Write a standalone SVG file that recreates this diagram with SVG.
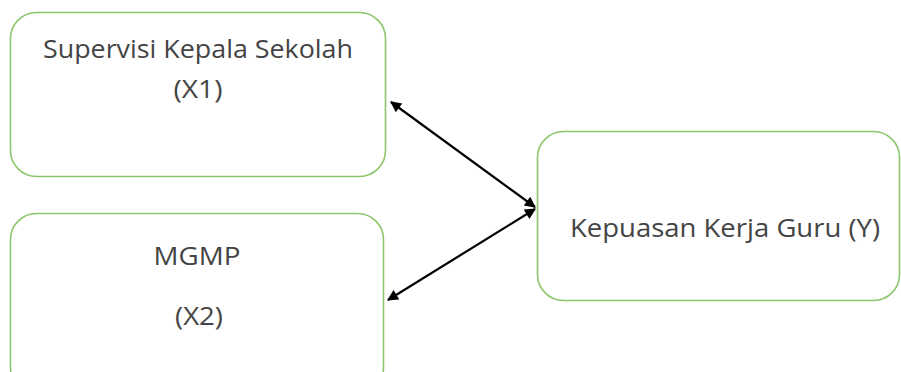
<svg xmlns="http://www.w3.org/2000/svg" width="901" height="372" viewBox="0 0 901 372">
<style>
.box{fill:#fff;stroke:#8cc66a;stroke-width:1.6}
.t{font-family:"Open Sans","Liberation Sans",sans-serif;font-size:26px;fill:#444;text-anchor:middle}
.c{stroke:#000;stroke-width:2.2;fill:none}
</style>
<defs>
<marker id="ah" viewBox="0 0 10 10" refX="9" refY="5" markerWidth="6" markerHeight="5" orient="auto-start-reverse" markerUnits="strokeWidth">
<path d="M0,0 L10,5 L0,10 z" fill="#000"/>
</marker>
</defs>
<rect width="901" height="372" fill="#fff"/>
<g id="node-x1">
<rect class="box" x="10.5" y="12.5" width="375" height="164" rx="26"/>
<text class="t" x="198" y="58" textLength="310" lengthAdjust="spacingAndGlyphs">Supervisi Kepala Sekolah</text>
<text class="t" x="198" y="98" textLength="49" lengthAdjust="spacingAndGlyphs">(X1)</text>
</g>
<g id="node-x2">
<rect class="box" x="10.5" y="213.5" width="373" height="180" rx="26"/>
<text class="t" x="197" y="265" textLength="87" lengthAdjust="spacingAndGlyphs">MGMP</text>
<text class="t" x="199" y="325" textLength="48" lengthAdjust="spacingAndGlyphs">(X2)</text>
</g>
<g id="node-y">
<rect class="box" x="537.5" y="131.5" width="362" height="169" rx="26"/>
<text class="t" x="725" y="237" font-size="25" textLength="310" lengthAdjust="spacingAndGlyphs">Kepuasan Kerja Guru  (Y)</text>
</g>
<g id="connectors">
<line class="c" x1="391" y1="102" x2="535" y2="207" marker-start="url(#ah)" marker-end="url(#ah)"/>
<line class="c" x1="535" y1="209" x2="388" y2="300" marker-start="url(#ah)" marker-end="url(#ah)"/>
</g>
</svg>
